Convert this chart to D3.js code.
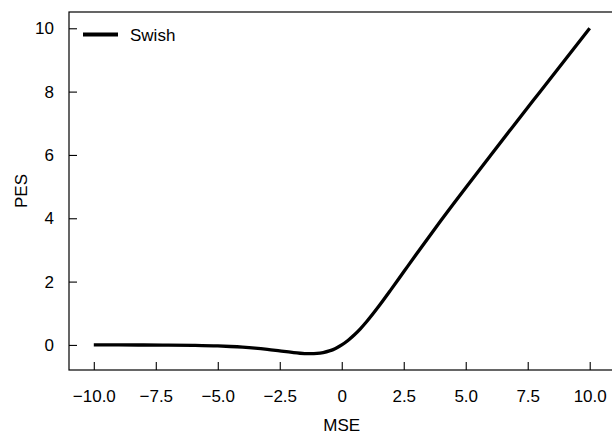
<!DOCTYPE html>
<html><head><meta charset="utf-8">
<script src="https://cdn.jsdelivr.net/npm/d3@7"></script>
<style>
html,body{margin:0;padding:0;background:#fff;}
svg{display:block;font-family:"Liberation Sans",Arial,Helvetica,sans-serif;}
</style></head>
<body>
<svg id="c" width="612" height="435"></svg>
<script>
const seriesName = "Swish";
const xValues = [-10,-9,-8,-7,-6,-5,-4.5,-4,-3.5,-3,-2.5,-2,-1.5,-1.25,-1,-0.75,-0.5,-0.25,0,0.25,0.5,0.75,1,1.5,2,2.5,3,3.5,4,4.5,5,6,7,8,9,10];
const yValues = [-0.0005,-0.001,-0.003,-0.006,-0.015,-0.033,-0.05,-0.072,-0.102,-0.142,-0.19,-0.238,-0.273,-0.278,-0.269,-0.24,-0.189,-0.110,0,0.14,0.311,0.508,0.731,1.227,1.762,2.31,2.857,3.395,3.928,4.451,4.967,5.985,6.994,7.997,8.999,10.0];
const xTicks = [-10,-7.5,-5,-2.5,0,2.5,5,7.5,10];
const xTickLabels = ["\u221210.0","\u22127.5","\u22125.0","\u22122.5","0","2.5","5.0","7.5","10.0"];
const yTicks = [0,2,4,6,8,10];
const xLabel = "MSE", yLabel = "PES";

(function(){
const svg = d3.select("#c");
const mL = 69, mT = 12, mR = 614.5, mB = 370;
const x = d3.scaleLinear().domain([-11, 11]).range([mL, mR]);
const y = d3.scaleLinear().domain([-0.792, 10.514]).range([mB, mT]);

svg.append("rect").attr("x", mL).attr("y", mT).attr("width", mR-mL).attr("height", mB-mT)
  .attr("fill","none").attr("stroke","#000").attr("stroke-width",1.2);

const xa = svg.append("g").attr("transform",`translate(0,${mB})`)
  .call(d3.axisBottom(x).tickValues(xTicks).tickSize(-8).tickPadding(20)
    .tickFormat((d,i)=>xTickLabels[i]));
xa.select(".domain").remove();
xa.selectAll("line").attr("stroke","#000").attr("stroke-width",1.1);
xa.selectAll("text").attr("font-size",17).attr("fill","#000").attr("font-family","Liberation Sans, Arial, sans-serif");

const ya = svg.append("g").attr("transform",`translate(${mL},0)`)
  .call(d3.axisLeft(y).tickValues(yTicks).tickSize(-8).tickPadding(15).tickFormat(d3.format("d")));
ya.select(".domain").remove();
ya.selectAll("line").attr("stroke","#000").attr("stroke-width",1.1);
ya.selectAll("text").attr("font-size",17).attr("fill","#000").attr("font-family","Liberation Sans, Arial, sans-serif");

const data = xValues.map((v,i)=>({x:v,y:yValues[i]}));
svg.append("path").datum(data)
  .attr("fill","none").attr("stroke","#000").attr("stroke-width",3.3)
  .attr("stroke-linejoin","round")
  .attr("d", d3.line().x(d=>x(d.x)).y(d=>y(d.y)).curve(d3.curveMonotoneX));

svg.append("text").attr("x",(mL+mR)/2).attr("y",431).attr("text-anchor","middle")
  .attr("font-size",17).text(xLabel);
svg.append("text").attr("transform",`translate(27,${(mT+mB)/2}) rotate(-90)`)
  .attr("text-anchor","middle").attr("font-size",17).text(yLabel);

svg.append("line").attr("x1",83).attr("x2",118).attr("y1",34.5).attr("y2",34.5)
  .attr("stroke","#000").attr("stroke-width",4);
svg.append("text").attr("x",130).attr("y",41).attr("font-size",17).text(seriesName);
})();
</script>
</body></html>
